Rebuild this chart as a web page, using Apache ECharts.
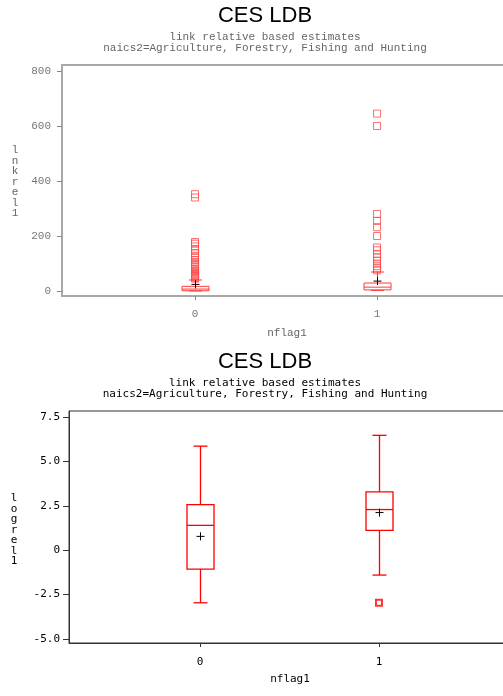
<!DOCTYPE html>
<html lang="en">
<head>
<meta charset="UTF-8">
<title>CES LDB</title>
<script src="https://cdn.jsdelivr.net/npm/echarts@6/dist/echarts.min.js"></script>
<style>
  html, body { margin: 0; background: #fff; }
  #main { width: 503px; height: 696px; }
</style>
</head>
<body>
<div id="main"></div>
<script>
// nflag1 groups
var groups = [0, 1];

// top panel: lnkrel1  (whisker low, q1, median, q3, whisker high)
var lnkBox = [[0, 1, 7, 17, 40], [2, 4, 14, 29, 69]];
var lnkMean = [24, 36];
var lnkOut0 = [45, 48, 52, 55, 58, 62, 66, 70, 75, 80, 86, 92, 98, 105, 112, 120, 128, 138, 150, 162, 172, 178, 340, 352];
var lnkOut1 = [75, 82, 90, 100, 110, 122, 135, 148, 158, 200, 232, 255, 280, 600, 645];
var lnkTicks = [0, 200, 400, 600, 800];

// bottom panel: logrel1
var logBox = [[-2.96, -1.06, 1.40, 2.57, 5.86], [-1.40, 1.12, 2.29, 3.29, 6.47]];
var logMean = [0.78, 2.12];
var logOut0 = [];
var logOut1 = [-2.96];
var logTicks = [-5, -2.5, 0, 2.5, 5, 7.5];
var logTickText = ['-5.0', '-2.5', '0', '2.5', '5.0', '7.5'];

var subtitle1 = 'link relative based estimates';
var subtitle2 = 'naics2=Agriculture, Forestry, Fishing and Hunting';

function boxData(stats, means) {
    return groups.map(function (g, i) {
        return [g].concat(stats[i]).concat([means[i]]);
    });
}
function outData(g, list) {
    return list.map(function (v) { return [g, v]; });
}

function boxItem(color, lw, boxW, capW) {
    return function (params, api) {
        var x = api.value(0);
        var p = [1, 2, 3, 4, 5, 6].map(function (i) { return api.coord([x, api.value(i)]); });
        var cx = Math.round(p[0][0]) + 0.5;
        var lo = p[0][1], q1 = p[1][1], md = p[2][1], q3 = p[3][1], hi = p[4][1], mn = p[5][1];
        var st = { stroke: color, lineWidth: lw, fill: 'none' };
        var ms = { stroke: '#000', lineWidth: 1 };
        return {
            type: 'group',
            children: [
                { type: 'rect', shape: { x: cx - boxW / 2, y: q3, width: boxW, height: q1 - q3 }, style: st },
                { type: 'line', shape: { x1: cx - boxW / 2, y1: md, x2: cx + boxW / 2, y2: md }, style: st },
                { type: 'line', shape: { x1: cx, y1: q3, x2: cx, y2: hi }, style: st },
                { type: 'line', shape: { x1: cx, y1: q1, x2: cx, y2: lo }, style: st },
                { type: 'line', shape: { x1: cx - capW / 2, y1: hi, x2: cx + capW / 2, y2: hi }, style: st },
                { type: 'line', shape: { x1: cx - capW / 2, y1: lo, x2: cx + capW / 2, y2: lo }, style: st },
                { type: 'line', shape: { x1: cx - 4, y1: mn, x2: cx + 4, y2: mn }, style: ms },
                { type: 'line', shape: { x1: cx, y1: mn - 4, x2: cx, y2: mn + 4 }, style: ms }
            ]
        };
    };
}

function txt(text, x, y, font, fill, lh) {
    return {
        type: 'text', x: x, y: y, silent: true,
        style: { text: text, font: font, fill: fill, align: 'center', verticalAlign: 'middle', lineHeight: lh }
    };
}

var monoFont = '11px "Liberation Mono"';
var sansFont = '11px "DejaVu Sans Mono"';
var topGray = '#a8a8a8';
var red = '#ff0000';

var option = {
    animation: false,
    backgroundColor: '#fff',
    graphic: [
        txt('CES LDB', 265, 16, '22px "Liberation Sans"', '#000'),
        txt(subtitle1, 265, 37, monoFont, '#666'),
        txt(subtitle2, 265, 48, monoFont, '#666'),
        txt('l\nn\nk\nr\ne\nl\n1', 15, 182, monoFont, '#666', 10.5),
        txt('nflag1', 287, 333, monoFont, '#666'),
        txt('CES LDB', 265, 362, '22px "Liberation Sans"', '#000'),
        txt(subtitle1, 265, 383, sansFont, '#000'),
        txt(subtitle2, 265, 394, sansFont, '#000'),
        txt('l\no\ng\nr\ne\nl\n1', 14, 530, sansFont, '#000', 10.5),
        txt('nflag1', 290, 679, sansFont, '#000')
    ],
    grid: [
        { left: 62, top: 65, right: -10, height: 231, show: true, borderColor: topGray, borderWidth: 2, outerBoundsMode: 'none' },
        { left: 69, top: 411, right: -10, height: 232, show: true, borderColor: '#333', borderWidth: 1, outerBoundsMode: 'none' }
    ],
    xAxis: [
        {
            gridIndex: 0, type: 'value', min: -0.731, max: 1.747,
            axisLine: { onZero: false, lineStyle: { color: topGray, width: 2 } },
            axisTick: { customValues: groups, length: 4, lineStyle: { color: '#888' } },
            axisLabel: { customValues: groups, margin: 13, color: '#777', fontFamily: 'Liberation Mono', fontSize: 11 },
            splitLine: { show: false }
        },
        {
            gridIndex: 1, type: 'value', min: -0.732, max: 1.749,
            axisLine: { onZero: false, lineStyle: { color: '#333', width: 1 } },
            axisTick: { customValues: groups, length: 4, lineStyle: { color: '#333' } },
            axisLabel: { customValues: groups, margin: 14, color: '#000', fontFamily: 'DejaVu Sans Mono', fontSize: 11 },
            splitLine: { show: false }
        }
    ],
    yAxis: [
        {
            gridIndex: 0, type: 'value', min: -18.2, max: 821.8,
            axisLine: { show: true, onZero: false, lineStyle: { color: topGray, width: 2 } },
            axisTick: { show: true, customValues: lnkTicks, length: 5, lineStyle: { color: '#888' } },
            axisLabel: { customValues: lnkTicks, margin: 11, color: '#777', fontFamily: 'Liberation Mono', fontSize: 11 },
            splitLine: { show: false }
        },
        {
            gridIndex: 1, type: 'value', min: -5.225, max: 7.84,
            axisLine: { show: true, onZero: false, lineStyle: { color: '#333', width: 1 } },
            axisTick: { show: true, customValues: logTicks, length: 6, lineStyle: { color: '#333' } },
            axisLabel: {
                customValues: logTicks, margin: 9, color: '#000', fontFamily: 'DejaVu Sans Mono', fontSize: 11,
                formatter: function (v) { return logTickText[logTicks.indexOf(v)]; }
            },
            splitLine: { show: false }
        }
    ],
    series: [
        {
            type: 'custom', xAxisIndex: 0, yAxisIndex: 0,
            renderItem: boxItem('#ff3b3b', 1, 27, 13),
            encode: { x: 0, y: [1, 2, 3, 4, 5] },
            data: boxData(lnkBox, lnkMean), z: 3
        },
        {
            type: 'scatter', xAxisIndex: 0, yAxisIndex: 0, symbol: 'rect', symbolSize: 7,
            itemStyle: { color: 'rgba(0,0,0,0)', borderColor: '#ff4a4a', borderWidth: 1 },
            data: outData(0, lnkOut0).concat(outData(1, lnkOut1))
        },
        {
            type: 'custom', xAxisIndex: 1, yAxisIndex: 1,
            renderItem: boxItem(red, 1.3, 27, 14),
            encode: { x: 0, y: [1, 2, 3, 4, 5] },
            data: boxData(logBox, logMean), z: 3
        },
        {
            type: 'scatter', xAxisIndex: 1, yAxisIndex: 1, symbol: 'rect', symbolSize: 6,
            itemStyle: { color: 'rgba(0,0,0,0)', borderColor: red, borderWidth: 2 },
            data: outData(0, logOut0).concat(outData(1, logOut1))
        }
    ]
};

var myChart = echarts.init(document.getElementById('main'));
myChart.setOption(option);
</script>
</body>
</html>
